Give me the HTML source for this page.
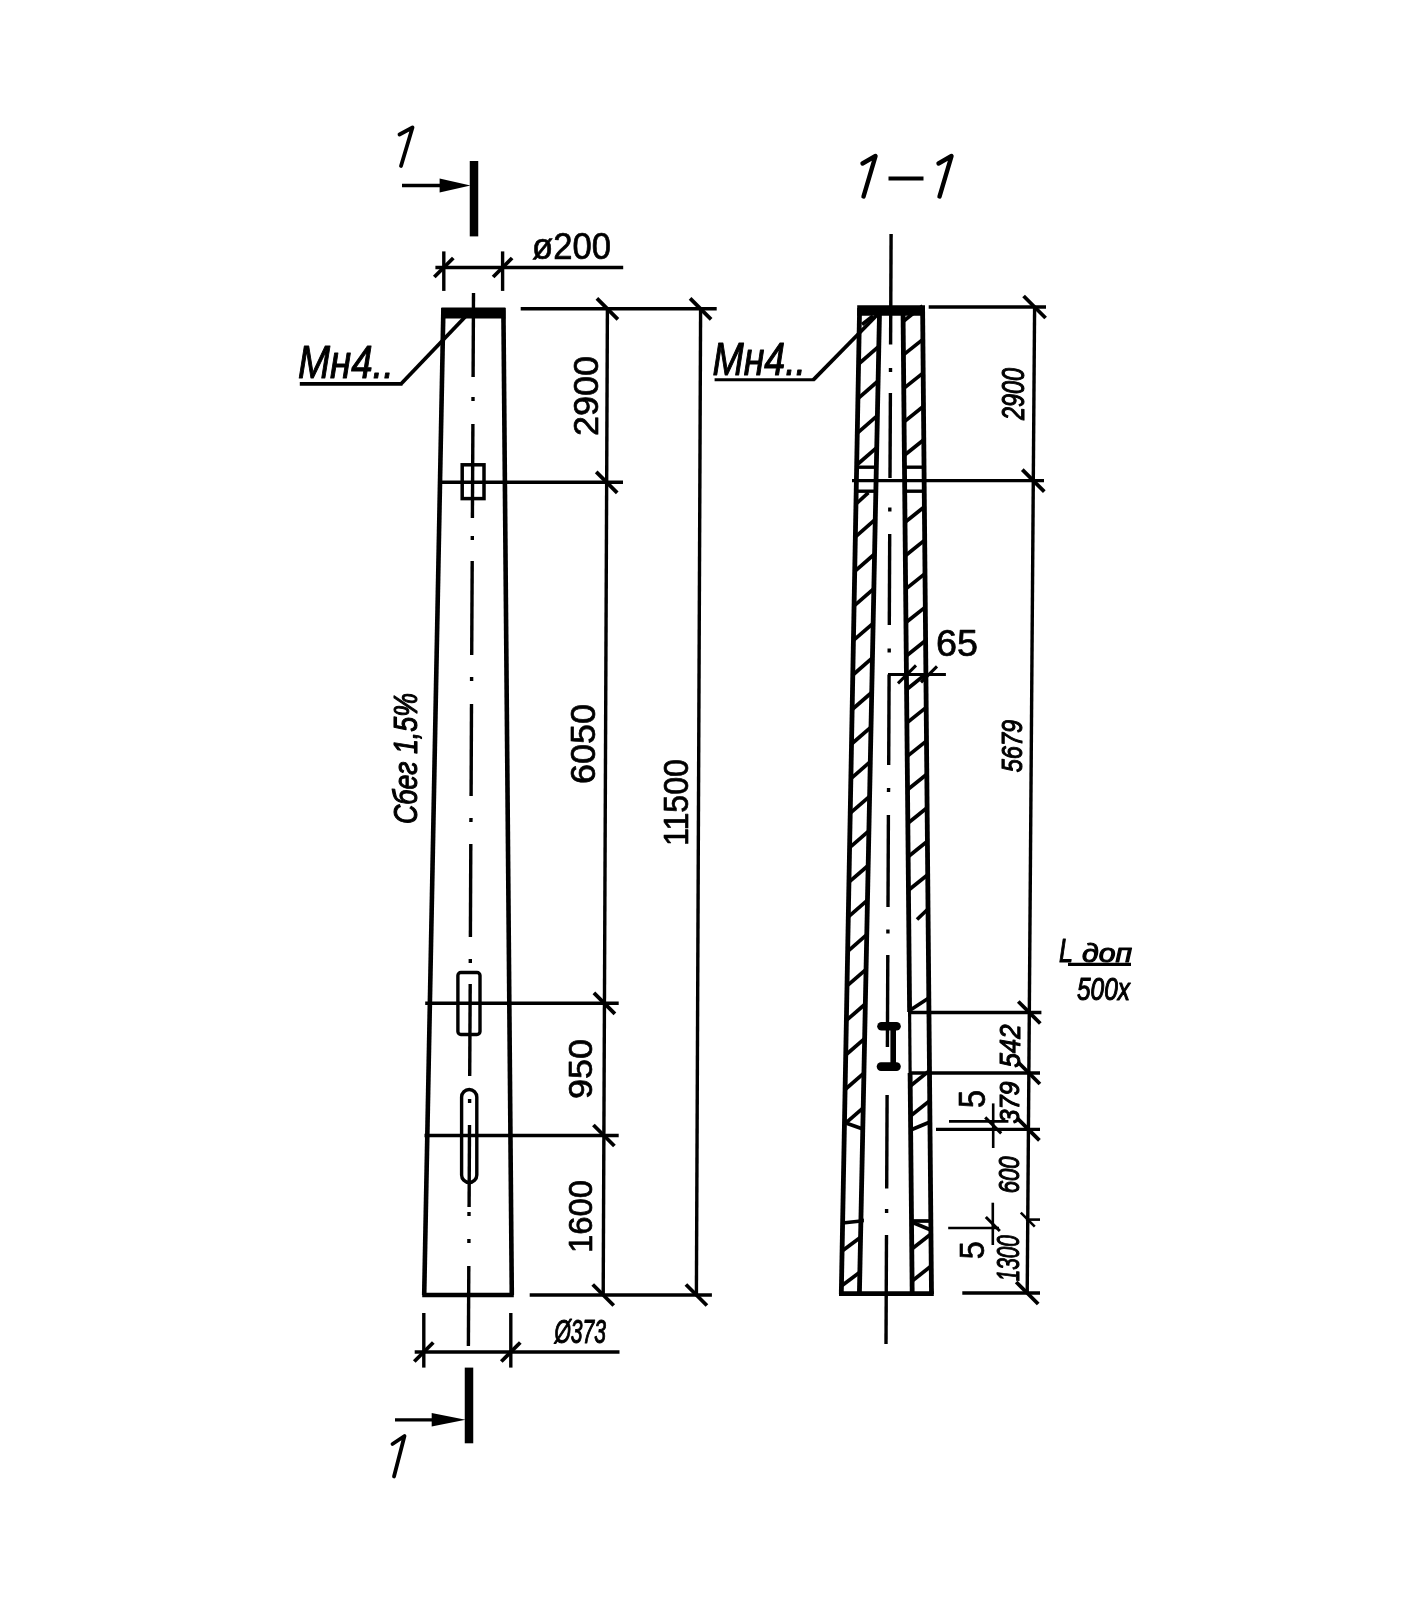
<!DOCTYPE html>
<html><head><meta charset="utf-8"><title>drawing</title>
<style>
html,body{margin:0;padding:0;background:#fff;}
body{width:1416px;height:1602px;overflow:hidden;}
svg{display:block;}
svg{will-change:transform;}
svg text{font-family:"Liberation Sans",sans-serif;fill:#000;stroke:#000;stroke-linejoin:round;}
</style></head><body>
<svg width="1416" height="1602" viewBox="0 0 1416 1602" stroke="#000" fill="none">
<rect x="0" y="0" width="1416" height="1602" fill="#fff" stroke="none"/>
<line x1="473.5" y1="293.0" x2="473.1" y2="377.0" stroke-width="3.4" stroke-linecap="butt"/>
<line x1="473.0" y1="397.0" x2="473.0" y2="401.0" stroke-width="3.4" stroke-linecap="butt"/>
<line x1="472.9" y1="424.0" x2="472.4" y2="518.0" stroke-width="3.4" stroke-linecap="butt"/>
<line x1="472.3" y1="536.0" x2="472.3" y2="540.0" stroke-width="3.4" stroke-linecap="butt"/>
<line x1="472.2" y1="561.0" x2="471.7" y2="655.0" stroke-width="3.4" stroke-linecap="butt"/>
<line x1="471.6" y1="677.0" x2="471.6" y2="681.0" stroke-width="3.4" stroke-linecap="butt"/>
<line x1="471.5" y1="704.0" x2="471.1" y2="796.0" stroke-width="3.4" stroke-linecap="butt"/>
<line x1="471.0" y1="818.0" x2="470.9" y2="822.0" stroke-width="3.4" stroke-linecap="butt"/>
<line x1="470.8" y1="844.0" x2="470.4" y2="937.0" stroke-width="3.4" stroke-linecap="butt"/>
<line x1="470.3" y1="959.0" x2="470.3" y2="963.0" stroke-width="3.4" stroke-linecap="butt"/>
<line x1="470.2" y1="984.0" x2="469.7" y2="1076.0" stroke-width="3.4" stroke-linecap="butt"/>
<line x1="469.6" y1="1099.0" x2="469.6" y2="1103.0" stroke-width="3.4" stroke-linecap="butt"/>
<line x1="469.5" y1="1125.0" x2="469.1" y2="1207.0" stroke-width="3.4" stroke-linecap="butt"/>
<line x1="469.0" y1="1212.0" x2="469.0" y2="1216.0" stroke-width="3.4" stroke-linecap="butt"/>
<line x1="468.9" y1="1239.0" x2="468.9" y2="1243.0" stroke-width="3.4" stroke-linecap="butt"/>
<line x1="468.8" y1="1266.0" x2="468.4" y2="1346.0" stroke-width="3.4" stroke-linecap="butt"/>
<line x1="443.4" y1="308.0" x2="424.2" y2="1295.0" stroke-width="4.6" stroke-linecap="butt"/>
<line x1="503.4" y1="308.0" x2="511.8" y2="1295.0" stroke-width="4.6" stroke-linecap="butt"/>
<line x1="422.2" y1="1295.0" x2="513.8" y2="1295.0" stroke-width="4.6" stroke-linecap="butt"/>
<polygon points="441.4,307.5 505.4,307.5 505.4,318.5 441.4,318.5" fill="#000" stroke="none" stroke-width="0"/>
<rect x="462.2" y="464.8" width="21.8" height="33.8" fill="none" stroke-width="3.5"/>
<rect x="457.9" y="972.5" width="22.1" height="62" rx="3" fill="none" stroke-width="3.4"/>
<rect x="461.6" y="1089.5" width="15.2" height="93" rx="7.6" fill="none" stroke-width="3.4"/>
<line x1="439.3" y1="482.3" x2="623.0" y2="482.3" stroke-width="3.4" stroke-linecap="butt"/>
<line x1="425.2" y1="1003.3" x2="618.7" y2="1003.3" stroke-width="3.4" stroke-linecap="butt"/>
<line x1="424.5" y1="1135.5" x2="618.7" y2="1135.5" stroke-width="3.4" stroke-linecap="butt"/>
<line x1="520.7" y1="308.8" x2="716.7" y2="308.8" stroke-width="3.4" stroke-linecap="butt"/>
<line x1="529.7" y1="1295.0" x2="711.9" y2="1295.0" stroke-width="3.4" stroke-linecap="butt"/>
<line x1="607.4" y1="308.8" x2="603.2" y2="1295.0" stroke-width="3.4" stroke-linecap="butt"/>
<line x1="700.6" y1="308.8" x2="696.4" y2="1295.0" stroke-width="3.4" stroke-linecap="butt"/>
<line x1="596.9" y1="298.3" x2="617.9" y2="319.3" stroke-width="3.8" stroke-linecap="butt"/>
<line x1="596.2" y1="471.8" x2="617.2" y2="492.8" stroke-width="3.8" stroke-linecap="butt"/>
<line x1="593.9" y1="992.8" x2="614.9" y2="1013.8" stroke-width="3.8" stroke-linecap="butt"/>
<line x1="593.4" y1="1125.0" x2="614.4" y2="1146.0" stroke-width="3.8" stroke-linecap="butt"/>
<line x1="592.7" y1="1284.5" x2="613.7" y2="1305.5" stroke-width="3.8" stroke-linecap="butt"/>
<line x1="690.1" y1="298.3" x2="711.1" y2="319.3" stroke-width="3.8" stroke-linecap="butt"/>
<line x1="685.9" y1="1284.5" x2="706.9" y2="1305.5" stroke-width="3.8" stroke-linecap="butt"/>
<line x1="435.4" y1="267.5" x2="623.2" y2="267.5" stroke-width="3.4" stroke-linecap="butt"/>
<line x1="443.8" y1="251.4" x2="443.8" y2="290.9" stroke-width="3.4" stroke-linecap="butt"/>
<line x1="502.6" y1="251.4" x2="502.6" y2="290.9" stroke-width="3.4" stroke-linecap="butt"/>
<line x1="434.3" y1="277.0" x2="453.3" y2="258.0" stroke-width="3.8" stroke-linecap="butt"/>
<line x1="493.1" y1="277.0" x2="512.1" y2="258.0" stroke-width="3.8" stroke-linecap="butt"/>
<line x1="414.7" y1="1352.0" x2="619.5" y2="1352.0" stroke-width="3.4" stroke-linecap="butt"/>
<line x1="423.8" y1="1313.0" x2="423.8" y2="1367.6" stroke-width="3.4" stroke-linecap="butt"/>
<line x1="510.8" y1="1313.0" x2="510.8" y2="1367.6" stroke-width="3.4" stroke-linecap="butt"/>
<line x1="414.3" y1="1361.5" x2="433.3" y2="1342.5" stroke-width="3.8" stroke-linecap="butt"/>
<line x1="501.3" y1="1361.5" x2="520.3" y2="1342.5" stroke-width="3.8" stroke-linecap="butt"/>
<line x1="474.0" y1="161.0" x2="474.0" y2="236.4" stroke-width="8.5" stroke-linecap="butt"/>
<line x1="402.0" y1="185.5" x2="445.0" y2="185.5" stroke-width="3.3" stroke-linecap="butt"/>
<polygon points="439.6,178.5 470.5,185.5 439.6,192.5" fill="#000" stroke="none" stroke-width="0"/>
<line x1="469.0" y1="1367.6" x2="469.0" y2="1443.3" stroke-width="8.5" stroke-linecap="butt"/>
<line x1="395.0" y1="1419.8" x2="437.0" y2="1419.8" stroke-width="3.3" stroke-linecap="butt"/>
<polygon points="431.7,1413.0 465.5,1419.8 431.7,1426.6" fill="#000" stroke="none" stroke-width="0"/>
<path d="M399.5,134.5 L412.5,127.5 L401,166" fill="none" stroke-width="3.8" stroke-linejoin="round" stroke-linecap="round"/>
<path d="M392.5,1444 L404.5,1436 L394,1476.5" fill="none" stroke-width="3.8" stroke-linejoin="round" stroke-linecap="round"/>
<line x1="299.8" y1="383.8" x2="402.5" y2="383.8" stroke-width="3.8" stroke-linecap="butt"/>
<line x1="401.2" y1="383.8" x2="466.0" y2="316.0" stroke-width="3.8" stroke-linecap="butt"/>
<text transform="translate(298.0,378.0) rotate(0)" font-size="47" font-weight="normal" stroke-width="1.1" font-style="italic" textLength="96.0" lengthAdjust="spacingAndGlyphs">Мн4..</text>
<line x1="714.6" y1="379.8" x2="814.5" y2="379.8" stroke-width="3.0" stroke-linecap="butt"/>
<line x1="813.3" y1="379.8" x2="877.5" y2="314.5" stroke-width="3.8" stroke-linecap="butt"/>
<text transform="translate(712.5,375.2) rotate(0)" font-size="46" font-weight="normal" stroke-width="1.1" font-style="italic" textLength="93.5" lengthAdjust="spacingAndGlyphs">Мн4..</text>
<text transform="translate(597.5,436.0) rotate(-90)" font-size="35.5" font-weight="normal" stroke-width="0.7" textLength="80.0" lengthAdjust="spacingAndGlyphs">2900</text>
<text transform="translate(595.2,784.0) rotate(-90)" font-size="35.5" font-weight="normal" stroke-width="0.7" textLength="80.0" lengthAdjust="spacingAndGlyphs">6050</text>
<text transform="translate(591.9,1099.0) rotate(-90)" font-size="34" font-weight="normal" stroke-width="0.7" textLength="60.0" lengthAdjust="spacingAndGlyphs">950</text>
<text transform="translate(591.9,1253.0) rotate(-90)" font-size="34" font-weight="normal" stroke-width="0.7" textLength="73.0" lengthAdjust="spacingAndGlyphs">1600</text>
<text transform="translate(688.0,846.0) rotate(-90)" font-size="35.5" font-weight="normal" stroke-width="0.7" textLength="87.0" lengthAdjust="spacingAndGlyphs">11500</text>
<text transform="translate(417.0,824.0) rotate(-90)" font-size="33" font-weight="normal" stroke-width="1.1" font-style="italic" textLength="131.0" lengthAdjust="spacingAndGlyphs">Сбег 1,5%</text>
<text transform="translate(532.0,258.5) rotate(0)" font-size="37" font-weight="normal" stroke-width="0.7" textLength="79.0" lengthAdjust="spacingAndGlyphs">ø200</text>
<text transform="translate(554.5,1342.7) rotate(0)" font-size="33" font-weight="normal" stroke-width="1.1" font-style="italic" textLength="51.5" lengthAdjust="spacingAndGlyphs">Ø373</text>
<path d="M862.5,163.5 L875.5,156 L863.5,196.5" fill="none" stroke-width="4.4" stroke-linejoin="round" stroke-linecap="round"/>
<path d="M938.5,163.5 L951.5,156 L939.5,196.5" fill="none" stroke-width="4.4" stroke-linejoin="round" stroke-linecap="round"/>
<line x1="888.5" y1="178.5" x2="923.5" y2="178.5" stroke-width="4.2" stroke-linecap="butt"/>
<line x1="891.1" y1="234.0" x2="890.6" y2="344.5" stroke-width="3.4" stroke-linecap="butt"/>
<line x1="890.5" y1="368.0" x2="890.5" y2="372.0" stroke-width="3.4" stroke-linecap="butt"/>
<line x1="890.4" y1="393.0" x2="890.0" y2="478.0" stroke-width="3.4" stroke-linecap="butt"/>
<line x1="889.8" y1="507.5" x2="889.8" y2="511.5" stroke-width="3.4" stroke-linecap="butt"/>
<line x1="889.7" y1="534.0" x2="889.3" y2="625.0" stroke-width="3.4" stroke-linecap="butt"/>
<line x1="889.2" y1="648.5" x2="889.2" y2="652.5" stroke-width="3.4" stroke-linecap="butt"/>
<line x1="889.1" y1="674.4" x2="888.7" y2="765.0" stroke-width="3.4" stroke-linecap="butt"/>
<line x1="888.6" y1="788.0" x2="888.5" y2="792.0" stroke-width="3.4" stroke-linecap="butt"/>
<line x1="888.4" y1="815.0" x2="888.0" y2="907.0" stroke-width="3.4" stroke-linecap="butt"/>
<line x1="887.9" y1="929.5" x2="887.9" y2="933.5" stroke-width="3.4" stroke-linecap="butt"/>
<line x1="887.8" y1="955.0" x2="887.4" y2="1047.0" stroke-width="3.4" stroke-linecap="butt"/>
<line x1="887.1" y1="1095.0" x2="886.7" y2="1188.5" stroke-width="3.4" stroke-linecap="butt"/>
<line x1="886.6" y1="1209.0" x2="886.6" y2="1213.0" stroke-width="3.4" stroke-linecap="butt"/>
<line x1="886.5" y1="1235.0" x2="886.0" y2="1344.0" stroke-width="3.4" stroke-linecap="butt"/>
<line x1="859.6" y1="308.0" x2="841.3" y2="1294.0" stroke-width="4.8" stroke-linecap="butt"/>
<line x1="922.6" y1="308.0" x2="931.5" y2="1294.0" stroke-width="4.8" stroke-linecap="butt"/>
<line x1="879.6" y1="308.0" x2="859.4" y2="1294.0" stroke-width="4.8" stroke-linecap="butt"/>
<line x1="903.0" y1="308.0" x2="909.6" y2="1012.0" stroke-width="4.8" stroke-linecap="butt"/>
<line x1="909.6" y1="1012.0" x2="910.1" y2="1073.0" stroke-width="3.2" stroke-linecap="butt"/>
<line x1="910.1" y1="1073.0" x2="912.2" y2="1294.0" stroke-width="4.8" stroke-linecap="butt"/>
<polygon points="857.2,305.2 925.0,305.2 925.0,315.8 857.2,315.8" fill="#000" stroke="none" stroke-width="0"/>
<line x1="839.0" y1="1293.6" x2="933.8" y2="1293.6" stroke-width="4.6" stroke-linecap="butt"/>
<line x1="858.6" y1="364.0" x2="878.8" y2="346.4" stroke-width="3.7" stroke-linecap="butt"/>
<line x1="857.9" y1="398.6" x2="878.1" y2="381.0" stroke-width="3.7" stroke-linecap="butt"/>
<line x1="857.3" y1="433.1" x2="877.4" y2="415.6" stroke-width="3.7" stroke-linecap="butt"/>
<line x1="856.7" y1="465.0" x2="876.7" y2="447.6" stroke-width="3.7" stroke-linecap="butt"/>
<line x1="856.0" y1="504.0" x2="868.4" y2="492.6" stroke-width="3.7" stroke-linecap="butt"/>
<line x1="855.4" y1="536.8" x2="875.3" y2="519.4" stroke-width="3.7" stroke-linecap="butt"/>
<line x1="854.7" y1="571.3" x2="874.6" y2="554.0" stroke-width="3.7" stroke-linecap="butt"/>
<line x1="854.1" y1="605.8" x2="873.9" y2="588.6" stroke-width="3.7" stroke-linecap="butt"/>
<line x1="853.4" y1="640.4" x2="873.1" y2="623.3" stroke-width="3.7" stroke-linecap="butt"/>
<line x1="852.8" y1="675.0" x2="872.4" y2="657.9" stroke-width="3.7" stroke-linecap="butt"/>
<line x1="852.1" y1="709.5" x2="871.7" y2="692.5" stroke-width="3.7" stroke-linecap="butt"/>
<line x1="851.5" y1="744.0" x2="871.0" y2="727.1" stroke-width="3.7" stroke-linecap="butt"/>
<line x1="850.9" y1="778.6" x2="870.3" y2="761.7" stroke-width="3.7" stroke-linecap="butt"/>
<line x1="850.2" y1="813.1" x2="869.6" y2="796.3" stroke-width="3.7" stroke-linecap="butt"/>
<line x1="849.6" y1="847.7" x2="868.9" y2="830.9" stroke-width="3.7" stroke-linecap="butt"/>
<line x1="848.9" y1="882.2" x2="868.2" y2="865.5" stroke-width="3.7" stroke-linecap="butt"/>
<line x1="848.3" y1="916.8" x2="867.5" y2="900.1" stroke-width="3.7" stroke-linecap="butt"/>
<line x1="847.7" y1="951.3" x2="866.8" y2="934.7" stroke-width="3.7" stroke-linecap="butt"/>
<line x1="847.0" y1="985.9" x2="866.1" y2="969.3" stroke-width="3.7" stroke-linecap="butt"/>
<line x1="846.4" y1="1020.4" x2="865.3" y2="1004.0" stroke-width="3.7" stroke-linecap="butt"/>
<line x1="845.7" y1="1055.0" x2="864.6" y2="1038.6" stroke-width="3.7" stroke-linecap="butt"/>
<line x1="845.1" y1="1089.5" x2="863.9" y2="1073.2" stroke-width="3.7" stroke-linecap="butt"/>
<line x1="844.5" y1="1124.1" x2="863.2" y2="1107.8" stroke-width="3.7" stroke-linecap="butt"/>
<line x1="862.0" y1="324.5" x2="873.0" y2="316.0" stroke-width="3.7" stroke-linecap="butt"/>
<line x1="903.1" y1="321.5" x2="922.6" y2="305.9" stroke-width="3.7" stroke-linecap="butt"/>
<line x1="903.4" y1="354.9" x2="922.9" y2="339.4" stroke-width="3.7" stroke-linecap="butt"/>
<line x1="903.8" y1="388.4" x2="923.2" y2="372.9" stroke-width="3.7" stroke-linecap="butt"/>
<line x1="904.1" y1="421.9" x2="923.5" y2="406.3" stroke-width="3.7" stroke-linecap="butt"/>
<line x1="904.4" y1="455.3" x2="923.8" y2="439.8" stroke-width="3.7" stroke-linecap="butt"/>
<line x1="905.0" y1="522.2" x2="924.4" y2="506.7" stroke-width="3.7" stroke-linecap="butt"/>
<line x1="905.3" y1="555.7" x2="924.7" y2="540.1" stroke-width="3.7" stroke-linecap="butt"/>
<line x1="905.6" y1="589.1" x2="925.0" y2="573.6" stroke-width="3.7" stroke-linecap="butt"/>
<line x1="905.9" y1="622.5" x2="925.3" y2="607.1" stroke-width="3.7" stroke-linecap="butt"/>
<line x1="906.2" y1="656.0" x2="925.6" y2="640.5" stroke-width="3.7" stroke-linecap="butt"/>
<line x1="906.6" y1="689.5" x2="925.9" y2="674.0" stroke-width="3.7" stroke-linecap="butt"/>
<line x1="906.9" y1="722.9" x2="926.2" y2="707.4" stroke-width="3.7" stroke-linecap="butt"/>
<line x1="907.2" y1="756.4" x2="926.5" y2="740.9" stroke-width="3.7" stroke-linecap="butt"/>
<line x1="907.5" y1="789.8" x2="926.8" y2="774.3" stroke-width="3.7" stroke-linecap="butt"/>
<line x1="907.8" y1="823.2" x2="927.1" y2="807.8" stroke-width="3.7" stroke-linecap="butt"/>
<line x1="908.1" y1="856.7" x2="927.4" y2="841.3" stroke-width="3.7" stroke-linecap="butt"/>
<line x1="908.4" y1="890.2" x2="927.7" y2="874.7" stroke-width="3.7" stroke-linecap="butt"/>
<line x1="910.3" y1="1086.0" x2="929.5" y2="1070.6" stroke-width="3.7" stroke-linecap="butt"/>
<line x1="910.5" y1="1116.0" x2="929.8" y2="1100.6" stroke-width="3.7" stroke-linecap="butt"/>
<line x1="917.0" y1="919.5" x2="927.5" y2="909.5" stroke-width="3.7" stroke-linecap="butt"/>
<line x1="909.6" y1="1010.5" x2="928.8" y2="998.0" stroke-width="3.7" stroke-linecap="butt"/>
<line x1="844.5" y1="1122.5" x2="862.8" y2="1129.0" stroke-width="3.7" stroke-linecap="butt"/>
<line x1="910.7" y1="1130.0" x2="929.9" y2="1122.0" stroke-width="3.7" stroke-linecap="butt"/>
<line x1="842.6" y1="1223.0" x2="860.9" y2="1221.0" stroke-width="3.7" stroke-linecap="butt"/>
<line x1="911.5" y1="1221.0" x2="930.8" y2="1221.0" stroke-width="3.7" stroke-linecap="butt"/>
<line x1="911.5" y1="1222.0" x2="930.9" y2="1230.0" stroke-width="3.7" stroke-linecap="butt"/>
<line x1="859.9" y1="1220.5" x2="863.9" y2="1220.5" stroke-width="3.7" stroke-linecap="butt"/>
<line x1="842.1" y1="1251.0" x2="860.6" y2="1237.2" stroke-width="3.7" stroke-linecap="butt"/>
<line x1="841.4" y1="1286.0" x2="859.8" y2="1272.2" stroke-width="3.7" stroke-linecap="butt"/>
<line x1="911.8" y1="1249.0" x2="931.0" y2="1234.0" stroke-width="3.7" stroke-linecap="butt"/>
<line x1="912.1" y1="1281.0" x2="931.2" y2="1266.0" stroke-width="3.7" stroke-linecap="butt"/>
<line x1="852.0" y1="480.6" x2="1044.0" y2="480.6" stroke-width="3.4" stroke-linecap="butt"/>
<line x1="856.6" y1="467.2" x2="876.3" y2="467.2" stroke-width="3.4" stroke-linecap="butt"/>
<line x1="904.5" y1="467.2" x2="924.0" y2="467.2" stroke-width="3.4" stroke-linecap="butt"/>
<line x1="856.2" y1="491.2" x2="875.8" y2="491.2" stroke-width="3.4" stroke-linecap="butt"/>
<line x1="904.7" y1="491.2" x2="924.3" y2="491.2" stroke-width="3.4" stroke-linecap="butt"/>
<line x1="928.7" y1="307.0" x2="1046.0" y2="307.0" stroke-width="3.4" stroke-linecap="butt"/>
<line x1="1034.6" y1="307.0" x2="1027.2" y2="1294.0" stroke-width="3.4" stroke-linecap="butt"/>
<line x1="1023.6" y1="296.0" x2="1045.6" y2="318.0" stroke-width="3.8" stroke-linecap="butt"/>
<line x1="1022.3" y1="469.6" x2="1044.3" y2="491.6" stroke-width="3.8" stroke-linecap="butt"/>
<line x1="1018.3" y1="1001.5" x2="1040.3" y2="1023.5" stroke-width="3.8" stroke-linecap="butt"/>
<line x1="1017.9" y1="1062.0" x2="1039.9" y2="1084.0" stroke-width="3.8" stroke-linecap="butt"/>
<line x1="1017.4" y1="1118.4" x2="1039.4" y2="1140.4" stroke-width="3.8" stroke-linecap="butt"/>
<line x1="1016.2" y1="1282.0" x2="1038.2" y2="1304.0" stroke-width="3.8" stroke-linecap="butt"/>
<line x1="1020.8" y1="1212.6" x2="1034.8" y2="1226.6" stroke-width="2.6" stroke-linecap="butt"/>
<line x1="910.0" y1="1012.5" x2="1041.4" y2="1012.5" stroke-width="3.4" stroke-linecap="butt"/>
<line x1="910.0" y1="1073.0" x2="1040.0" y2="1073.0" stroke-width="3.4" stroke-linecap="butt"/>
<line x1="936.0" y1="1129.4" x2="1040.0" y2="1129.4" stroke-width="3.4" stroke-linecap="butt"/>
<line x1="949.0" y1="1121.4" x2="1008.4" y2="1121.4" stroke-width="2.6" stroke-linecap="butt"/>
<line x1="948.2" y1="1228.0" x2="999.0" y2="1228.0" stroke-width="2.6" stroke-linecap="butt"/>
<line x1="1025.9" y1="1219.6" x2="1040.0" y2="1219.6" stroke-width="2.6" stroke-linecap="butt"/>
<line x1="962.3" y1="1293.0" x2="1040.0" y2="1293.0" stroke-width="3.4" stroke-linecap="butt"/>
<line x1="993.2" y1="1103.4" x2="993.2" y2="1148.0" stroke-width="2.6" stroke-linecap="butt"/>
<line x1="985.2" y1="1117.4" x2="1001.2" y2="1133.4" stroke-width="3" stroke-linecap="butt"/>
<line x1="992.8" y1="1202.7" x2="992.8" y2="1245.0" stroke-width="2.6" stroke-linecap="butt"/>
<line x1="985.8" y1="1217.0" x2="999.8" y2="1231.0" stroke-width="3" stroke-linecap="butt"/>
<line x1="888.0" y1="674.4" x2="945.9" y2="674.4" stroke-width="3" stroke-linecap="butt"/>
<line x1="898.0" y1="683.4" x2="916.0" y2="665.4" stroke-width="3" stroke-linecap="butt"/>
<line x1="921.0" y1="682.4" x2="937.0" y2="666.4" stroke-width="3" stroke-linecap="butt"/>
<text transform="translate(936.0,656.0) rotate(0)" font-size="36.5" font-weight="normal" stroke-width="0.7" textLength="42.0" lengthAdjust="spacingAndGlyphs">65</text>
<line x1="893.2" y1="1029.0" x2="893.2" y2="1065.0" stroke-width="5.6" stroke-linecap="butt"/>
<line x1="881.5" y1="1026.3" x2="896.5" y2="1026.3" stroke-width="8.6" stroke-linecap="round"/>
<line x1="881.0" y1="1066.6" x2="896.5" y2="1066.6" stroke-width="8.6" stroke-linecap="round"/>
<text transform="translate(1023.8,420.0) rotate(-90)" font-size="32" font-weight="normal" stroke-width="1.1" font-style="italic" textLength="52.0" lengthAdjust="spacingAndGlyphs">2900</text>
<text transform="translate(1021.6,772.3) rotate(-90)" font-size="30" font-weight="normal" stroke-width="1.1" font-style="italic" textLength="52.5" lengthAdjust="spacingAndGlyphs">5679</text>
<text transform="translate(1019.5,1067.5) rotate(-90)" font-size="29" font-weight="normal" stroke-width="1.1" font-style="italic" textLength="43.0" lengthAdjust="spacingAndGlyphs">542</text>
<text transform="translate(1018.8,1123.5) rotate(-90)" font-size="28.5" font-weight="normal" stroke-width="1.1" font-style="italic" textLength="42.0" lengthAdjust="spacingAndGlyphs">379</text>
<text transform="translate(1019.0,1193.3) rotate(-90)" font-size="30" font-weight="normal" stroke-width="1.1" font-style="italic" textLength="37.0" lengthAdjust="spacingAndGlyphs">600</text>
<text transform="translate(1019.0,1281.3) rotate(-90)" font-size="31" font-weight="normal" stroke-width="1.1" font-style="italic" textLength="46.0" lengthAdjust="spacingAndGlyphs">1300</text>
<text transform="translate(984.5,1108.0) rotate(-90)" font-size="36" font-weight="normal" stroke-width="0.7" textLength="18.0" lengthAdjust="spacingAndGlyphs">5</text>
<text transform="translate(983.8,1259.3) rotate(-90)" font-size="35" font-weight="normal" stroke-width="0.7" textLength="18.0" lengthAdjust="spacingAndGlyphs">5</text>
<text transform="translate(1059.0,961.5) rotate(0)" font-size="33" font-weight="normal" stroke-width="1.1" font-style="italic" textLength="14.0" lengthAdjust="spacingAndGlyphs">L</text>
<text transform="translate(1082.0,961.5) rotate(0)" font-size="26" font-weight="normal" stroke-width="1.1" font-style="italic" textLength="50.0" lengthAdjust="spacingAndGlyphs">доп</text>
<line x1="1068.0" y1="964.3" x2="1131.0" y2="964.3" stroke-width="3.2" stroke-linecap="butt"/>
<text transform="translate(1077.0,999.5) rotate(0)" font-size="31" font-weight="normal" stroke-width="1.1" font-style="italic" textLength="53.0" lengthAdjust="spacingAndGlyphs">500х</text>
</svg>
</body></html>
